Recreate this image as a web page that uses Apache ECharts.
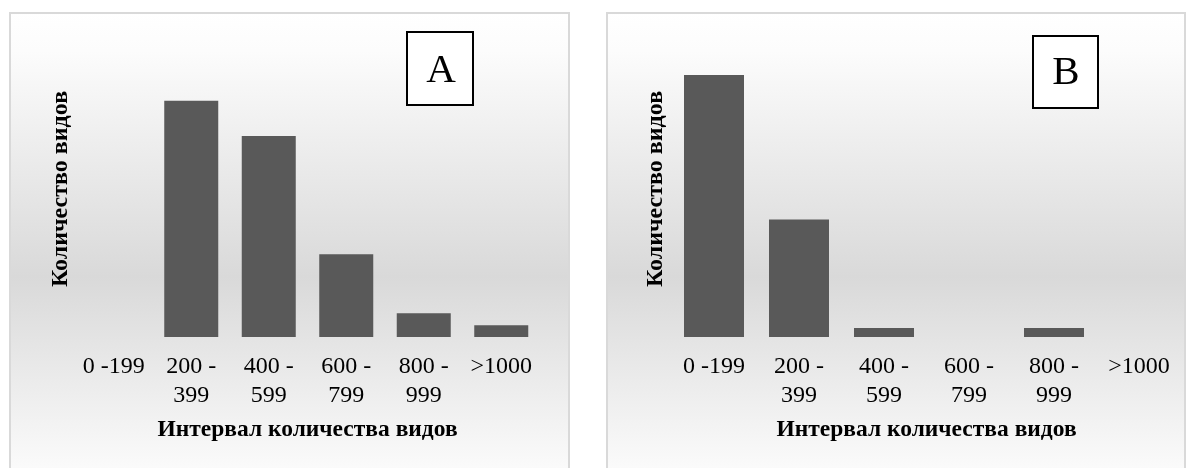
<!DOCTYPE html>
<html>
<head>
<meta charset="utf-8">
<script src="https://cdn.jsdelivr.net/npm/echarts@6/dist/echarts.min.js"></script>
<style>
html,body{margin:0;padding:0;background:#ffffff;}
#chart{width:1195px;height:468px;}
</style>
</head>
<body>
<div id="chart"></div>
<script>
const categories = ['0 -199', '200 -\n399', '400 -\n599', '600 -\n799', '800 -\n999', '>1000'];
const valuesA = [0, 20, 17, 7, 2, 1];
const valuesB = [29, 13, 1, 0, 1, 0];
const panelLetters = ['A', 'B'];
const yAxisTitle = 'Количество видов';
const xAxisTitle = 'Интервал количества видов';

const serif = '"Liberation Serif", "Times New Roman", serif';
const chart = echarts.init(document.getElementById('chart'), null, {renderer: 'canvas'});

const bgFill = new echarts.graphic.LinearGradient(0, 0, 0, 1, [
  {offset: 0, color: '#ffffff'},
  {offset: 0.08, color: '#fcfcfc'},
  {offset: 0.55, color: '#d9d9d9'},
  {offset: 1, color: '#ffffff'}
]);

function xAxisCfg(gridIndex) {
  return {
    type: 'category',
    gridIndex: gridIndex,
    data: categories,
    axisLine: {show: false},
    axisTick: {show: false},
    axisLabel: {
      interval: 0,
      margin: 15,
      color: '#000000',
      fontFamily: serif,
      fontSize: 24,
      lineHeight: 29
    },
    name: xAxisTitle,
    nameLocation: 'middle',
    nameGap: 81,
    nameTextStyle: {
      color: '#000000',
      fontFamily: serif,
      fontSize: 23.5,
      fontWeight: 'bold',
      lineHeight: 24
    }
  };
}

function yAxisCfg(gridIndex, max) {
  return {
    type: 'value',
    gridIndex: gridIndex,
    min: 0,
    max: max,
    show: false,
    splitLine: {show: false}
  };
}

const barStyle = {
  color: '#595959',
  borderWidth: 0
};

const option = {
  animation: false,
  backgroundColor: '#ffffff',
  grid: [
    {left: 75, top: 77, width: 465, height: 260},
    {left: 671.5, top: 75, width: 510, height: 262}
  ],
  xAxis: [xAxisCfg(0), xAxisCfg(1)],
  yAxis: [yAxisCfg(0, 22), yAxisCfg(1, 29)],
  graphic: [
    {type: 'rect', z: -10, silent: true, shape: {x: 10, y: 13, width: 559, height: 480},
      style: {fill: bgFill, stroke: '#d9d9d9', lineWidth: 2}},
    {type: 'rect', z: -10, silent: true, shape: {x: 607, y: 13, width: 578, height: 480},
      style: {fill: bgFill, stroke: '#d9d9d9', lineWidth: 2}},
    {type: 'rect', z: 10, shape: {x: 407, y: 32, width: 66, height: 73},
      style: {fill: '#ffffff', stroke: '#000000', lineWidth: 2}},
    {type: 'text', z: 11, x: 441, y: 71,
      style: {text: panelLetters[0], font: '41px ' + serif, fill: '#000000', align: 'center', verticalAlign: 'middle'}},
    {type: 'rect', z: 10, shape: {x: 1033, y: 36, width: 65, height: 72},
      style: {fill: '#ffffff', stroke: '#000000', lineWidth: 2}},
    {type: 'text', z: 11, x: 1066, y: 73,
      style: {text: panelLetters[1], font: '41px ' + serif, fill: '#000000', align: 'center', verticalAlign: 'middle'}},
    {type: 'text', z: 11, x: 61, y: 189, rotation: Math.PI / 2,
      style: {text: yAxisTitle, font: 'bold 24px ' + serif, fill: '#000000', align: 'center', verticalAlign: 'middle'}},
    {type: 'text', z: 11, x: 656, y: 189, rotation: Math.PI / 2,
      style: {text: yAxisTitle, font: 'bold 24px ' + serif, fill: '#000000', align: 'center', verticalAlign: 'middle'}}
  ],
  series: [
    {type: 'bar', xAxisIndex: 0, yAxisIndex: 0, data: valuesA, barWidth: 54, itemStyle: barStyle},
    {type: 'bar', xAxisIndex: 1, yAxisIndex: 1, data: valuesB, barWidth: 60, itemStyle: barStyle}
  ]
};
chart.setOption(option);
</script>
</body>
</html>
